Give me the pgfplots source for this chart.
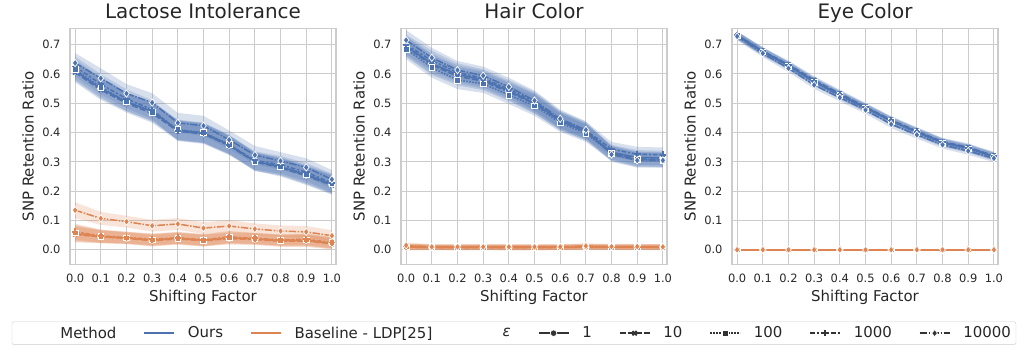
\documentclass[border=0pt]{standalone}
\usepackage{fontspec}
\setmainfont{DejaVu Sans}
\usepackage{pgfplots}
\usepackage{pgfplotstable}
\pgfplotsset{compat=1.18}
\usepgfplotslibrary{groupplots,fillbetween}

\definecolor{cO}{HTML}{4C72B0}
\definecolor{cB}{HTML}{DD8452}
\definecolor{gridc}{HTML}{CCCCCC}
\definecolor{txt}{HTML}{262626}
\definecolor{legc}{HTML}{333333}

% SNP retention ratio per shifting factor, one column per epsilon, w = half band
\pgfplotstableread{
x   y1   y10  y100 y1000 y10000 w
0.0 .610 .605 .615 .625 .637 .034
0.1 .550 .545 .555 .565 .585 .034
0.2 .505 .500 .505 .515 .533 .032
0.3 .472 .465 .470 .478 .502 .032
0.4 .408 .405 .410 .406 .433 .034
0.5 .398 .395 .400 .398 .423 .034
0.6 .357 .355 .360 .358 .375 .032
0.7 .302 .300 .300 .305 .323 .031
0.8 .283 .280 .285 .290 .303 .030
0.9 .255 .252 .258 .265 .281 .031
1.0 .222 .220 .225 .228 .240 .032
}\lacO
\pgfplotstableread{
x   y1   y10  y100 y1000 y10000 w
0.0 .055 .052 .058 .062 .135 .027
0.1 .045 .044 .046 .047 .107 .022
0.2 .040 .039 .041 .042 .096 .020
0.3 .033 .031 .034 .036 .082 .020
0.4 .039 .037 .040 .041 .088 .020
0.5 .032 .031 .033 .034 .074 .020
0.6 .040 .038 .042 .044 .081 .020
0.7 .037 .035 .038 .039 .071 .019
0.8 .031 .029 .033 .034 .064 .019
0.9 .032 .030 .034 .036 .061 .020
1.0 .022 .020 .024 .025 .048 .019
}\lacB
\pgfplotstableread{
x   y1   y10  y100 y1000 y10000 w
0.0 .695 .692 .684 .700 .715 .034
0.1 .635 .630 .621 .645 .655 .034
0.2 .598 .592 .579 .605 .613 .031
0.3 .580 .575 .566 .585 .594 .031
0.4 .542 .538 .528 .548 .556 .031
0.5 .500 .498 .491 .505 .509 .034
0.6 .440 .438 .433 .443 .447 .031
0.7 .403 .402 .397 .408 .409 .029
0.8 .333 .330 .328 .343 .325 .025
0.9 .315 .310 .308 .326 .305 .025
1.0 .313 .308 .306 .324 .305 .025
}\hairO
\pgfplotstableread{
x   y1   y10  y100 y1000 y10000 w
0.0 .009 .008 .010 .011 .015 .010
0.1 .008 .008 .009 .009 .010 .009
0.2 .008 .007 .009 .009 .010 .009
0.3 .008 .008 .009 .010 .010 .009
0.4 .008 .007 .008 .009 .010 .009
0.5 .008 .007 .009 .009 .010 .009
0.6 .008 .008 .009 .009 .010 .009
0.7 .009 .008 .010 .011 .013 .009
0.8 .009 .008 .009 .010 .011 .009
0.9 .009 .008 .009 .010 .011 .009
1.0 .009 .008 .009 .010 .010 .009
}\hairB
\pgfplotstableread{
x   y1   y10  y100 y1000 y10000 w
0.0 .730 .732 .731 .733 .728 .013
0.1 .676 .678 .675 .677 .670 .013
0.2 .628 .632 .627 .630 .619 .013
0.3 .573 .579 .572 .576 .562 .013
0.4 .528 .533 .526 .530 .519 .013
0.5 .485 .488 .483 .486 .477 .013
0.6 .440 .443 .438 .441 .428 .013
0.7 .402 .405 .400 .403 .392 .013
0.8 .366 .369 .364 .367 .358 .013
0.9 .346 .350 .344 .347 .337 .013
1.0 .318 .321 .317 .320 .312 .013
}\eyeO
\pgfplotstableread{
x   y1 y10 y100 y1000 y10000 w
0.0 0 0 0 0 0 .002
0.1 0 0 0 0 0 .002
0.2 0 0 0 0 0 .002
0.3 0 0 0 0 0 .002
0.4 0 0 0 0 0 .002
0.5 0 0 0 0 0 .002
0.6 0 0 0 0 0 .002
0.7 0 0 0 0 0 .002
0.8 0 0 0 0 0 .002
0.9 0 0 0 0 0 .002
1.0 0 0 0 0 0 .002
}\eyeB

\pgfplotsset{
  legend image code/.code={\draw[mark repeat=2,mark phase=2,#1]
    plot coordinates {(0bp,0bp) (15bp,0bp) (30bp,0bp)};},
  y1/.style={solid, mark=*, mark size=3.3bp,
    mark options={solid, draw=white, fill=#1, line width=0.7bp}},
  y10/.style={dash pattern=on 6bp off 2.25bp, mark=x, mark size=3bp,
    mark options={solid, draw=#1, line width=1.8bp}},
  y100/.style={dash pattern=on 1.5bp off 1.5bp, mark=square*, mark size=2.9bp,
    mark options={solid, draw=white, fill=#1, line width=0.7bp}},
  y1000/.style={dash pattern=on 4.5bp off 1.9bp on 2.25bp off 1.9bp, mark=+,
    mark size=3.3bp, mark options={solid, draw=#1, line width=1.8bp}},
  y10000/.style={dash pattern=on 7.5bp off 1.5bp on 1.5bp off 1.5bp,
    mark=diamond*, mark size=3.7bp,
    mark options={solid, draw=white, fill=#1, line width=0.7bp}},
}

% #1 table, #2 column, #3 colour, #4 unique id
\newcommand{\ser}[4]{%
  \addplot[draw=none, forget plot, name path=lo#4]
    table[x=x, y expr=\thisrow{#2}-\thisrow{w}] {#1};
  \addplot[draw=none, forget plot, name path=hi#4]
    table[x=x, y expr=\thisrow{#2}+\thisrow{w}] {#1};
  \addplot[fill=#3, fill opacity=0.22, draw=none, forget plot]
    fill between[of=lo#4 and hi#4];
  \addplot[#3, line width=1.5bp, #2=#3, forget plot] table[x=x, y=#2] {#1};
}
\newcommand{\panel}[3]{%
  \ser{#1}{y1}{cO}{#3o1}\ser{#1}{y10}{cO}{#3o2}\ser{#1}{y100}{cO}{#3o3}%
  \ser{#1}{y1000}{cO}{#3o4}\ser{#1}{y10000}{cO}{#3o5}%
  \ser{#2}{y1}{cB}{#3b1}\ser{#2}{y10}{cB}{#3b2}\ser{#2}{y100}{cB}{#3b3}%
  \ser{#2}{y1000}{cB}{#3b4}\ser{#2}{y10000}{cB}{#3b5}%
}

\begin{document}
\begin{tikzpicture}
\begin{groupplot}[group style={group size=3 by 1, horizontal sep=65bp},
  scale only axis, width=266bp, height=236bp,
  xmin=-0.02, xmax=1.016, ymin=-0.05, ymax=0.755,
  xtick={0,0.1,0.2,0.3,0.4,0.5,0.6,0.7,0.8,0.9,1},
  ytick={0,0.1,0.2,0.3,0.4,0.5,0.6,0.7},
  /pgf/number format/fixed, /pgf/number format/fixed zerofill,
  /pgf/number format/precision=1, /pgf/number format/assume math mode=true,
  grid=major, grid style={gridc, line width=1bp},
  axis line style={gridc, line width=1.25bp},
  major tick length=0pt,
  tick label style={font=\fontsize{11.5}{13}\selectfont, text=txt},
  xticklabel style={yshift=-6bp}, yticklabel style={xshift=-6bp},
  label style={font=\fontsize{15}{18}\selectfont, text=txt},
  title style={font=\fontsize{20}{24}\selectfont, text=txt,
    at={(axis description cs:0.5,1)}, anchor=base, yshift=4bp},
  xlabel={Shifting Factor}, ylabel={SNP Retention Ratio},
  xlabel style={at={(axis description cs:0.5,-0.14)}, anchor=center},
  ylabel style={at={(axis description cs:-0.158,0.5)}, anchor=center},
  legend cell align=left]
\nextgroupplot[title={Lactose Intolerance}, legend columns=9,
  legend style={at={(1.669,-0.242)}, anchor=north, draw=gridc, fill=white,
    rounded corners=2bp, font=\fontsize{15}{18}\selectfont, text=txt,
    inner xsep=5bp, inner ysep=5bp, nodes={inner sep=0bp},
    /tikz/every odd column/.style={column sep=13bp},
    /tikz/every even column/.style={column sep=27bp}}]
\panel{\lacO}{\lacB}{la}
\addlegendimage{legend image code/.code={\path (0bp,0bp) (30bp,0bp);}}
\addlegendentry{Method}
\addlegendimage{cO, line width=1.5bp}
\addlegendentry{Ours}
\addlegendimage{cB, line width=1.5bp}
\addlegendentry{Baseline - LDP[25]}
\addlegendimage{legend image code/.code={\path (0bp,0bp) (30bp,0bp);}}
\addlegendentry{\textit{ε}}
\addlegendimage{legc, line width=1.5bp, y1=legc}
\addlegendentry{1}
\addlegendimage{legc, line width=1.5bp, y10=legc}
\addlegendentry{10}
\addlegendimage{legc, line width=1.5bp, y100=legc}
\addlegendentry{100}
\addlegendimage{legc, line width=1.5bp, y1000=legc}
\addlegendentry{1000}
\addlegendimage{legc, line width=1.5bp, y10000=legc}
\addlegendentry{10000}
\nextgroupplot[title={Hair Color}]
\panel{\hairO}{\hairB}{ha}
\nextgroupplot[title={Eye Color}]
\panel{\eyeO}{\eyeB}{ey}
\end{groupplot}
\path ([shift={(-70bp,-90bp)}]group c1r1.south west)
  rectangle ([shift={(29bp,27bp)}]group c3r1.north east);
\end{tikzpicture}
\end{document}
